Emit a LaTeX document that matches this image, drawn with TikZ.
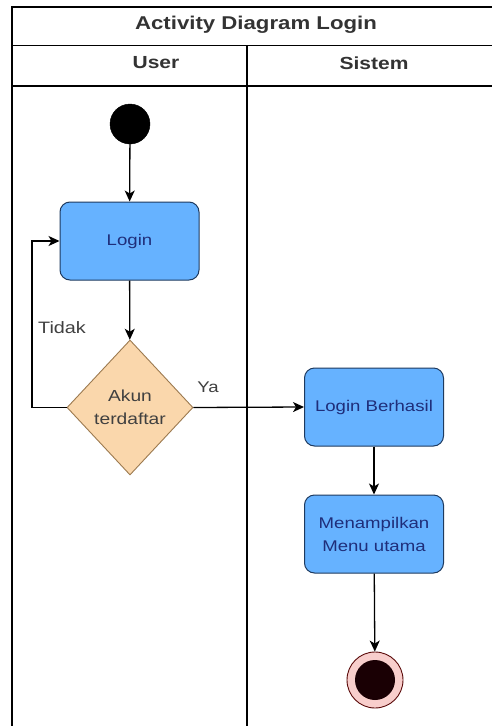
\documentclass[tikz,border=0pt]{standalone}
\usepackage{fontspec}
\setmainfont[FakeStretch=1.2]{Liberation Sans}
\usetikzlibrary{shapes.geometric,arrows.meta}
\definecolor{actfill}{HTML}{66B2FF}
\definecolor{actline}{HTML}{1E3A5F}
\definecolor{acttext}{HTML}{1F2E7A}
\definecolor{decfill}{HTML}{FAD7AC}
\definecolor{decline}{HTML}{9C7A50}
\definecolor{endfill}{HTML}{F8CECC}
\definecolor{endline}{HTML}{5A0A0A}
\definecolor{innerend}{HTML}{1A0004}
\tikzset{
  lane/.style={draw=black, line width=1.6pt},
  activity/.style={draw=actline, fill=actfill, line width=1pt, rounded corners=10pt,
    minimum width=139pt, minimum height=78pt, inner sep=2pt, align=center,
    text=acttext, font=\fontsize{15.5}{23}\selectfont},
  decision/.style={diamond, draw=decline, fill=decfill, line width=0.9pt, inner sep=0pt,
    minimum width=126pt, minimum height=135pt, align=center,
    text=black!75, font=\fontsize{16}{23}\selectfont},
  flow/.style={draw=black, line width=1.3pt, -{Stealth[length=11pt,width=10pt,inset=3pt]}},
  lbl/.style={text=black!75, font=\fontsize{16.5}{19}\selectfont},
  headtxt/.style={text=black!80, font=\bfseries\fontsize{17.5}{20}\selectfont}
}
\begin{document}
\begin{tikzpicture}[x=1pt,y=-1pt]
\useasboundingbox (0,0) rectangle (492,726);
\fill[white] (0,0) rectangle (492,726);
\clip (0,0) rectangle (492,726);

% swimlane frame
\draw[lane] (12,740) -- (12,7) -- (510,7) -- (510,740);
\draw[lane] (12,45.5) -- (510,45.5);
\draw[lane] (12,86) -- (510,86);
\draw[lane] (247,45.5) -- (247,740);

% headers
\node[headtxt, font=\bfseries\fontsize{18.5}{21}\selectfont] (title) at (256,25) {Activity Diagram Login};
\node[headtxt] (hUser) at (156,63) {User};
\node[headtxt] (hSistem) at (374,63) {Sistem};

% nodes
\node[circle, fill=black, draw=black, minimum size=40pt, inner sep=0pt] (start) at (130,124) {};
\node[activity] (login) at (129.5,241) {Login};
\node[decision] (cek) at (130,407.5) {Akun\\terdaftar};
\node[activity] (berhasil) at (374,407) {Login Berhasil};
\node[activity] (menu) at (374,534) {Menampilkan\\Menu utama};
\node[circle, fill=endfill, draw=endline, line width=0.9pt, minimum size=56pt, inner sep=0pt] (finish) at (375,680) {};
\node[circle, fill=innerend, minimum size=40pt, inner sep=0pt] (finishdot) at (finish.center) {};

% connectors
\coordinate (loop) at (32,407.5);
\draw[flow] (start) -- (login);
\draw[flow] (login) -- (cek);
\draw[flow] (cek.west) -- (loop) |- (login.west);
\draw[flow] (cek.east) -- (berhasil.west);
\draw[flow] (berhasil) -- (menu);
\draw[flow] (menu) -- (finish);

% branch labels
\node[lbl] (tidak) at (62,328) {Tidak};
\node[lbl, font=\fontsize{15.5}{18}\selectfont] (ya) at (208,387) {Ya};
\end{tikzpicture}
\end{document}
